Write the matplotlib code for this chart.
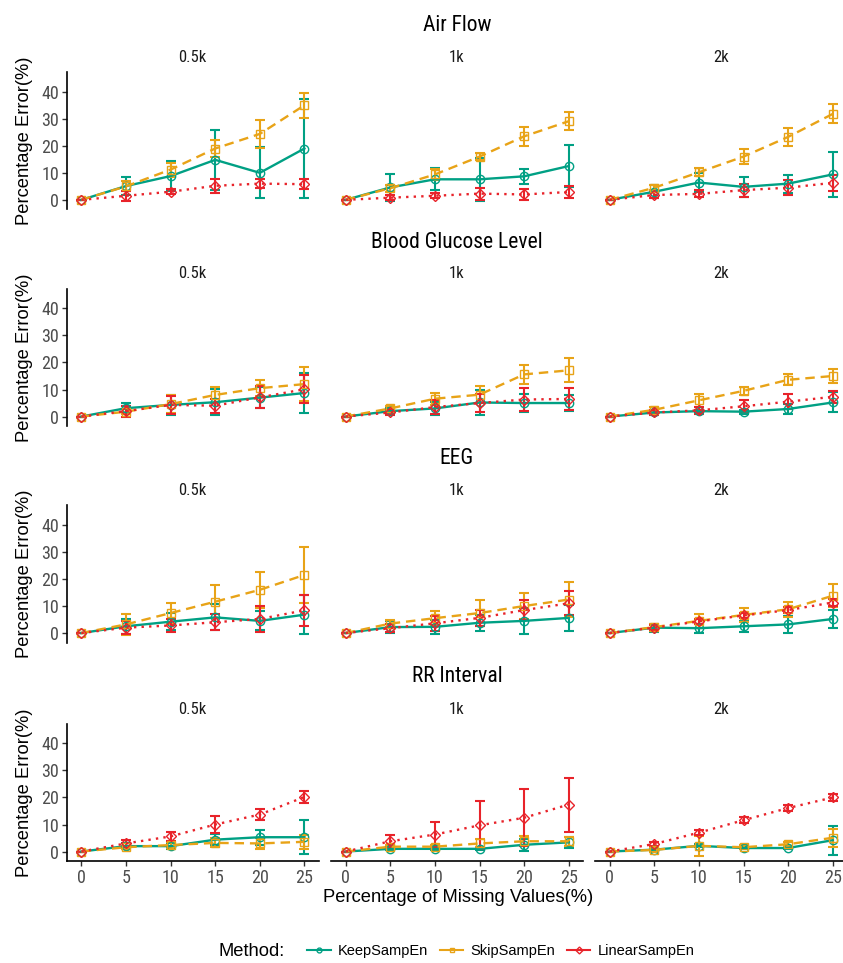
import matplotlib
matplotlib.use("Agg")
import matplotlib.pyplot as plt
from matplotlib.lines import Line2D
from matplotlib import font_manager

# ---------------- data ----------------
x_missing = [0, 5, 10, 15, 20, 25]
sizes = ["0.5k", "1k", "2k"]
datasets = ["Air Flow", "Blood Glucose Level", "EEG", "RR Interval"]
methods = ["KeepSampEn", "SkipSampEn", "LinearSampEn"]

# Air Flow (one list per size: 0.5k, 1k, 2k)
af_keep_mean = [[0, 5.1, 8.8, 14.8, 10.0, 19.0], [0, 4.6, 7.6, 7.6, 8.7, 12.5], [0, 3.0, 6.4, 4.8, 6.0, 9.4]]
af_keep_sd = [[0, 3.2, 5.7, 11.0, 9.4, 18.2], [0, 5.1, 4.0, 8.0, 2.8, 7.7], [0, 2.4, 3.5, 3.7, 3.3, 8.3]]
af_skip_mean = [[0, 5.0, 11.2, 19.0, 24.4, 35.0], [0, 4.3, 9.4, 16.0, 23.5, 29.1], [0, 4.5, 10.2, 16.0, 23.3, 31.8]]
af_skip_sd = [[0, 1.8, 2.6, 3.0, 5.2, 4.7], [0, 1.3, 2.1, 1.3, 3.4, 3.3], [0, 1.0, 1.5, 2.7, 3.2, 3.5]]
af_lin_mean = [[0, 1.5, 3.0, 5.2, 6.0, 5.8], [0, 0.8, 1.5, 2.3, 2.0, 2.9], [0, 1.8, 2.2, 3.6, 4.5, 6.3]]
af_lin_sd = [[0, 1.8, 1.0, 2.5, 1.6, 1.9], [0, 1.0, 1.0, 2.2, 2.0, 2.2], [0, 1.1, 1.3, 2.4, 2.7, 3.0]]

# Blood Glucose Level
bg_keep_mean = [[0, 3.1, 4.3, 5.3, 7.0, 8.7], [0, 2.0, 3.0, 5.2, 5.0, 5.0], [0, 1.5, 2.0, 1.8, 2.8, 5.2]]
bg_keep_sd = [[0, 1.8, 3.8, 4.9, 4.0, 7.3], [0, 1.0, 2.5, 4.7, 3.2, 3.0], [0, 0.5, 0.6, 0.8, 1.8, 3.7]]
bg_skip_mean = [[0, 1.8, 4.6, 8.0, 10.5, 12.0], [0, 3.0, 6.6, 8.1, 15.6, 17.1], [0, 2.5, 6.0, 9.5, 13.6, 15.0]]
bg_skip_sd = [[0, 1.0, 3.2, 2.9, 3.0, 6.3], [0, 1.0, 2.2, 3.2, 3.4, 4.4], [0, 1.0, 2.5, 1.5, 2.0, 2.5]]
bg_lin_mean = [[0, 2.0, 4.3, 4.0, 7.1, 10.1], [0, 1.5, 3.5, 5.0, 6.3, 6.5], [0, 1.5, 2.3, 3.8, 5.5, 7.3]]
bg_lin_sd = [[0, 2.0, 3.2, 2.6, 4.1, 5.1], [0, 1.0, 2.5, 3.5, 4.2, 4.0], [0, 1.0, 1.3, 2.3, 2.7, 2.2]]

# EEG
eeg_keep_mean = [[0, 2.5, 4.2, 5.8, 4.5, 6.8], [0, 2.2, 2.3, 3.8, 4.5, 5.6], [0, 2.0, 1.8, 2.5, 3.2, 5.2]]
eeg_keep_sd = [[0, 2.8, 3.2, 4.8, 3.5, 7.1], [0, 2.2, 2.5, 3.0, 4.8, 4.8], [0, 1.5, 1.7, 2.0, 3.2, 3.2]]
eeg_skip_mean = [[0, 3.2, 7.4, 11.6, 16.0, 21.5], [0, 3.5, 5.5, 7.4, 10.0, 12.4], [0, 2.2, 4.5, 6.7, 8.8, 13.8]]
eeg_skip_sd = [[0, 3.9, 3.9, 6.1, 6.7, 10.3], [0, 1.2, 2.6, 4.8, 4.9, 6.6], [0, 1.3, 2.5, 2.7, 2.7, 4.2]]
eeg_lin_mean = [[0, 2.0, 2.8, 4.0, 5.2, 8.4], [0, 1.8, 3.6, 5.6, 8.5, 11.0], [0, 2.0, 4.3, 6.5, 8.5, 11.3]]
eeg_lin_sd = [[0, 2.3, 2.5, 3.0, 4.8, 5.8], [0, 1.5, 2.7, 3.0, 3.8, 4.4], [0, 1.0, 0.8, 1.0, 1.2, 1.3]]

# RR Interval
rr_keep_mean = [[0, 2.0, 2.0, 4.4, 5.3, 5.3], [0, 1.0, 1.0, 1.0, 2.5, 3.4], [0, 0.7, 2.1, 1.3, 1.3, 4.2]]
rr_keep_sd = [[0, 1.0, 1.0, 2.0, 2.8, 6.3], [0, 0.5, 0.5, 0.5, 2.2, 2.1], [0, 0.3, 0.6, 0.5, 0.5, 5.4]]
rr_skip_mean = [[0, 1.6, 2.4, 3.2, 3.0, 3.6], [0, 1.8, 1.8, 3.0, 3.8, 3.8], [0, 0.6, 2.1, 1.6, 2.7, 5.1]]
rr_skip_sd = [[0, 0.5, 1.0, 1.7, 2.0, 2.7], [0, 0.5, 0.7, 1.5, 1.9, 1.7], [0, 0.6, 3.6, 0.8, 0.8, 3.4]]
rr_lin_mean = [[0, 3.0, 5.6, 10.0, 13.7, 20.2], [0, 3.8, 6.3, 9.7, 12.5, 17.4], [0, 2.8, 7.0, 11.6, 16.1, 20.0]]
rr_lin_sd = [[0, 1.3, 1.7, 3.3, 2.1, 2.3], [0, 2.5, 4.7, 8.9, 10.5, 10.0], [0, 0.9, 1.0, 1.1, 1.1, 1.4]]

y_ticks = [0, 10, 20, 30, 40]
x_ticks = [0, 5, 10, 15, 20, 25]

all_data = {
    "Air Flow": [(af_keep_mean, af_keep_sd), (af_skip_mean, af_skip_sd), (af_lin_mean, af_lin_sd)],
    "Blood Glucose Level": [(bg_keep_mean, bg_keep_sd), (bg_skip_mean, bg_skip_sd), (bg_lin_mean, bg_lin_sd)],
    "EEG": [(eeg_keep_mean, eeg_keep_sd), (eeg_skip_mean, eeg_skip_sd), (eeg_lin_mean, eeg_lin_sd)],
    "RR Interval": [(rr_keep_mean, rr_keep_sd), (rr_skip_mean, rr_skip_sd), (rr_lin_mean, rr_lin_sd)],
}

# ---------------- style ----------------
colors = ["#00A084", "#E8A317", "#E8232A"]
linestyles = ["-", (0, (4, 2.5)), (0, (1, 2.2))]
markers = ["o", "s", "D"]
marker_sizes = [6, 5.8, 5]

names = {f.name for f in font_manager.fontManager.ttflist}
narrow = "Liberation Sans"
for cand in ["Roboto Condensed", "Archivo Narrow", "Liberation Sans Narrow"]:
    if cand in names:
        narrow = cand
        break
plt.rcParams["font.family"] = ["Liberation Sans", "DejaVu Sans"]

W, H = 843, 963
fig = plt.figure(figsize=(W / 100, H / 100), dpi=100)

panel_left = [66.7, 331.0, 595.0]
panel_w = 252.0
row_top = [72.3, 289.0, 505.5, 724.0]
panel_h = 137.0

for r, ds in enumerate(datasets):
    top = row_top[r]
    fig.text(456.9 / W, 1 - (top - 47) / H, ds, ha="center", va="center",
             fontsize=15.5, family=[narrow, "Liberation Sans"], color="black")
    fig.text(25 / W, 1 - (top + panel_h / 2) / H, "Percentage Error(%)", rotation=90,
             ha="center", va="center", fontsize=13.2, color="black")
    for c, sz in enumerate(sizes):
        ax = fig.add_axes([panel_left[c] / W, 1 - (top + panel_h) / H, panel_w / W, panel_h / H])
        ax.patch.set_alpha(0)
        for m in range(3):
            mean = all_data[ds][m][0][c]
            sd = all_data[ds][m][1][c]
            ax.errorbar(x_missing, mean, yerr=sd, fmt="none", ecolor=colors[m],
                        elinewidth=1.5, capsize=3.6, capthick=1.5, zorder=2 + m)
        for m in range(3):
            mean = all_data[ds][m][0][c]
            ax.plot(x_missing, mean, color=colors[m], linestyle=linestyles[m], lw=1.7,
                    marker=markers[m], markersize=marker_sizes[m], markerfacecolor="none",
                    markeredgewidth=1.0, markeredgecolor=colors[m], zorder=5 + m)
        ax.set_xlim(-1.65, 26.6)
        ax.set_ylim(-3.5, 47.2)
        for s in ["top", "right"]:
            ax.spines[s].set_visible(False)
        ax.text(0.5, 1 + 15 / panel_h, sz, transform=ax.transAxes, ha="center", va="center",
                fontsize=12, family=[narrow, "Liberation Sans"], color="#1A1A1A")
        if c == 0:
            ax.spines["left"].set_linewidth(1.2)
            ax.set_yticks(y_ticks)
            ax.set_yticklabels([str(v) for v in y_ticks], fontsize=13,
                               family=[narrow, "Liberation Sans"], color="#4D4D4D")
            ax.tick_params(axis="y", length=3.5, width=1.0, color="#333333", pad=2)
        else:
            ax.spines["left"].set_visible(False)
            ax.set_yticks([])
        if r == len(datasets) - 1:
            ax.spines["bottom"].set_linewidth(1.2)
            ax.set_xticks(x_ticks)
            ax.set_xticklabels([str(v) for v in x_ticks], fontsize=13,
                               family=[narrow, "Liberation Sans"], color="#4D4D4D")
            ax.tick_params(axis="x", length=3.5, width=1.0, color="#333333", pad=2.5)
        else:
            ax.spines["bottom"].set_visible(False)
            ax.set_xticks([])

fig.text(458 / W, 1 - 898 / H, "Percentage of Missing Values(%)", ha="center", va="center",
         fontsize=13.2, color="black")

fig.text(218 / W, 1 - 951 / H, "Method:", ha="left", va="center", fontsize=13.2, color="black")
handles = [Line2D([0], [0], color=colors[m], lw=1.5, marker=markers[m], markersize=3.5,
                  markerfacecolor="none", markeredgewidth=1.0) for m in range(3)]
fig.legend(handles, methods, loc="center", bbox_to_anchor=(501 / W, 1 - 951 / H), ncol=3,
           frameon=False, fontsize=10.5, handlelength=1.6, handletextpad=0.5,
           columnspacing=0.8, borderpad=0, borderaxespad=0)

fig.savefig("out.png", dpi=100)
